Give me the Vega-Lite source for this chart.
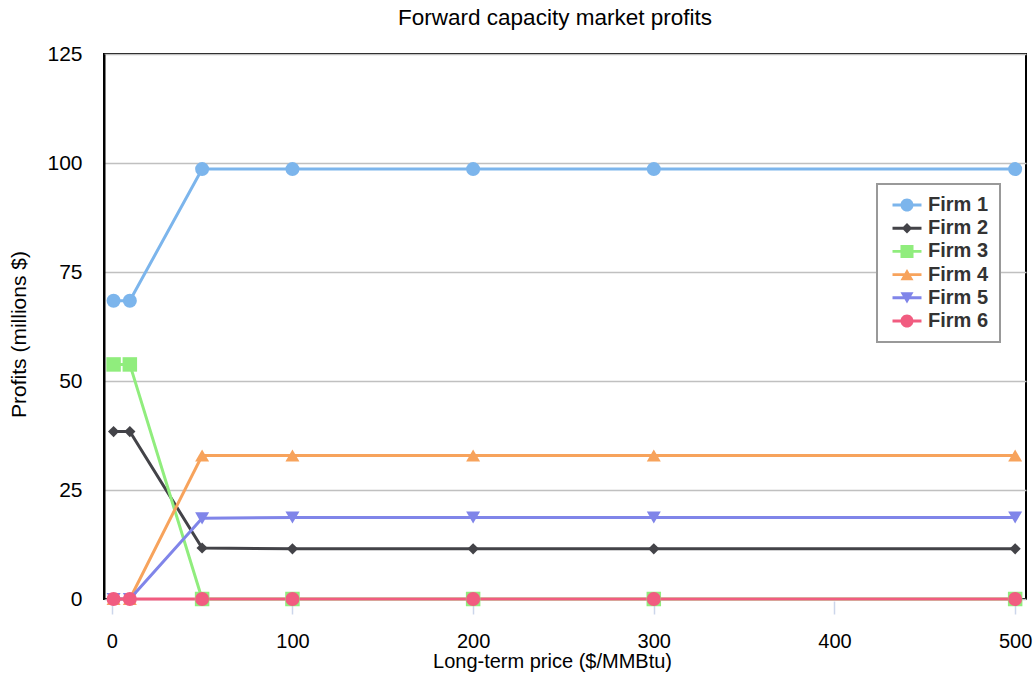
{
  "$schema": "https://vega.github.io/schema/vega-lite/v6.json",
  "width": 922,
  "height": 545,
  "autosize": {"type": "none"},
  "padding": {"left": 104, "top": 54, "right": 7, "bottom": 86},
  "background": "white",
  "title": {
    "text": "Forward capacity market profits",
    "font": "Liberation Sans",
    "fontSize": 22.5,
    "fontWeight": "normal",
    "color": "#000000",
    "anchor": "middle",
    "baseline": "alphabetic",
    "offset": 18.5,
    "dx": -10,
    "dy": 23
  },
  "config": {
    "view": {"stroke": "#000000", "strokeWidth": 2},
    "axis": {
      "labelFont": "Liberation Sans",
      "titleFont": "Liberation Sans",
      "labelColor": "#000000",
      "titleColor": "#000000",
      "titleFontWeight": "normal",
      "labelFontSize": 21,
      "titleFontSize": 20
    },
    "legend": {"strokeWidth": 2}
  },
  "data": {
    "values": [
      {"firm": "Firm 1", "price": 1, "profit": 68.4},
      {"firm": "Firm 1", "price": 10, "profit": 68.4},
      {"firm": "Firm 1", "price": 50, "profit": 98.6},
      {"firm": "Firm 1", "price": 100, "profit": 98.6},
      {"firm": "Firm 1", "price": 200, "profit": 98.6},
      {"firm": "Firm 1", "price": 300, "profit": 98.6},
      {"firm": "Firm 1", "price": 500, "profit": 98.6},
      {"firm": "Firm 2", "price": 1, "profit": 38.4},
      {"firm": "Firm 2", "price": 10, "profit": 38.4},
      {"firm": "Firm 2", "price": 50, "profit": 11.7},
      {"firm": "Firm 2", "price": 100, "profit": 11.5},
      {"firm": "Firm 2", "price": 200, "profit": 11.5},
      {"firm": "Firm 2", "price": 300, "profit": 11.5},
      {"firm": "Firm 2", "price": 500, "profit": 11.5},
      {"firm": "Firm 3", "price": 1, "profit": 53.8},
      {"firm": "Firm 3", "price": 10, "profit": 53.8},
      {"firm": "Firm 3", "price": 50, "profit": 0},
      {"firm": "Firm 3", "price": 100, "profit": 0},
      {"firm": "Firm 3", "price": 200, "profit": 0},
      {"firm": "Firm 3", "price": 300, "profit": 0},
      {"firm": "Firm 3", "price": 500, "profit": 0},
      {"firm": "Firm 4", "price": 1, "profit": 0},
      {"firm": "Firm 4", "price": 10, "profit": 0},
      {"firm": "Firm 4", "price": 50, "profit": 32.9},
      {"firm": "Firm 4", "price": 100, "profit": 32.9},
      {"firm": "Firm 4", "price": 200, "profit": 32.9},
      {"firm": "Firm 4", "price": 300, "profit": 32.9},
      {"firm": "Firm 4", "price": 500, "profit": 32.9},
      {"firm": "Firm 5", "price": 1, "profit": 0},
      {"firm": "Firm 5", "price": 10, "profit": 0},
      {"firm": "Firm 5", "price": 50, "profit": 18.5},
      {"firm": "Firm 5", "price": 100, "profit": 18.7},
      {"firm": "Firm 5", "price": 200, "profit": 18.7},
      {"firm": "Firm 5", "price": 300, "profit": 18.7},
      {"firm": "Firm 5", "price": 500, "profit": 18.7},
      {"firm": "Firm 6", "price": 1, "profit": 0},
      {"firm": "Firm 6", "price": 10, "profit": 0},
      {"firm": "Firm 6", "price": 50, "profit": 0},
      {"firm": "Firm 6", "price": 100, "profit": 0},
      {"firm": "Firm 6", "price": 200, "profit": 0},
      {"firm": "Firm 6", "price": 300, "profit": 0},
      {"firm": "Firm 6", "price": 500, "profit": 0}
    ]
  },
  "encoding": {
    "x": {
      "field": "price",
      "type": "quantitative",
      "scale": {"domain": [-4.3, 506], "nice": false, "zero": false},
      "axis": {
        "title": "Long-term price ($/MMBtu)",
        "values": [0, 100, 200, 300, 400, 500],
        "grid": false,
        "domain": false,
        "ticks": true,
        "tickColor": "#ccd6eb",
        "tickSize": 13,
        "tickWidth": 1.5,
        "offset": 2,
        "labelFontSize": 20,
        "labelPadding": 17,
        "titleX": 448,
        "titleY": 50.5
      }
    },
    "y": {
      "field": "profit",
      "type": "quantitative",
      "scale": {"domain": [0, 125], "nice": false},
      "axis": {
        "title": "Profits (millions $)",
        "titleFontSize": 21,
        "values": [0, 25, 50, 75, 100, 125],
        "grid": true,
        "gridColor": "#c0c0c0",
        "gridWidth": 1.5,
        "domain": true,
        "domainColor": "#000000",
        "domainWidth": 2,
        "ticks": false,
        "labelPadding": 22,
        "titlePadding": 17,
        "titleY": 280
      }
    },
    "color": {
      "field": "firm",
      "type": "nominal",
      "scale": {
        "domain": ["Firm 1", "Firm 2", "Firm 3", "Firm 4", "Firm 5", "Firm 6"],
        "range": ["#7cb5ec", "#434348", "#90ed7d", "#f7a35c", "#8085e9", "#f15c80"]
      },
      "legend": {
        "title": null,
        "orient": "none",
        "legendX": 773,
        "legendY": 130,
        "padding": 11,
        "fillColor": "#ffffff",
        "strokeColor": "#999999",
        "labelFont": "Liberation Sans",
        "labelFontSize": 20,
        "labelFontWeight": "bold",
        "labelColor": "#333333",
        "symbolSize": 196,
        "symbolOffset": 9,
        "labelOffset": 11,
        "rowPadding": 3.2,
        "symbolStrokeWidth": 0,
        "symbolOpacity": 1,
        "symbolFillColor": {"expr": "scale('color', datum.value)"},
        "symbolType": {"expr": "datum.value === 'Firm 2' ? 'M-2.07,-0.21H2.07V0.21H-2.07Z M0,-0.75L0.75,0L0,0.75L-0.75,0Z' : datum.value === 'Firm 3' ? 'M-2.07,-0.21H2.07V0.21H-2.07Z M-0.93,-0.93H0.93V0.93H-0.93Z' : datum.value === 'Firm 4' ? 'M-2.07,-0.21H2.07V0.21H-2.07Z M0,-0.8L0.93,0.8L-0.93,0.8Z' : datum.value === 'Firm 5' ? 'M-2.07,-0.21H2.07V0.21H-2.07Z M-0.93,-0.8L0.93,-0.8L0,0.8Z' : 'M-2.07,-0.21H2.07V0.21H-2.07Z M-0.93,0A0.93,0.93 0 1,1 0.93,0A0.93,0.93 0 1,1 -0.93,0Z'"}
      }
    }
  },
  "layer": [
    {
      "mark": {"type": "line", "strokeWidth": 3},
      "encoding": {"detail": {"field": "firm", "type": "nominal"}}
    },
    {
      "transform": [{"filter": {"field": "firm", "equal": "Firm 2"}}],
      "mark": {"type": "point", "filled": true, "opacity": 1, "size": 196, "shape": "M0,-0.8L0.8,0L0,0.8L-0.8,0Z"}
    },
    {
      "transform": [{"filter": {"field": "firm", "equal": "Firm 3"}}],
      "mark": {"type": "point", "filled": true, "opacity": 1, "size": 210, "shape": "square"}
    },
    {
      "transform": [{"filter": {"field": "firm", "equal": "Firm 4"}}],
      "mark": {"type": "point", "filled": true, "opacity": 1, "size": 196, "shape": "triangle-up"}
    },
    {
      "transform": [{"filter": {"field": "firm", "equal": "Firm 5"}}],
      "mark": {"type": "point", "filled": true, "opacity": 1, "size": 196, "shape": "triangle-down"}
    },
    {
      "transform": [{"filter": {"field": "firm", "oneOf": ["Firm 1", "Firm 6"]}}],
      "mark": {"type": "point", "filled": true, "opacity": 1, "size": 196, "shape": "circle"}
    }
  ]
}
